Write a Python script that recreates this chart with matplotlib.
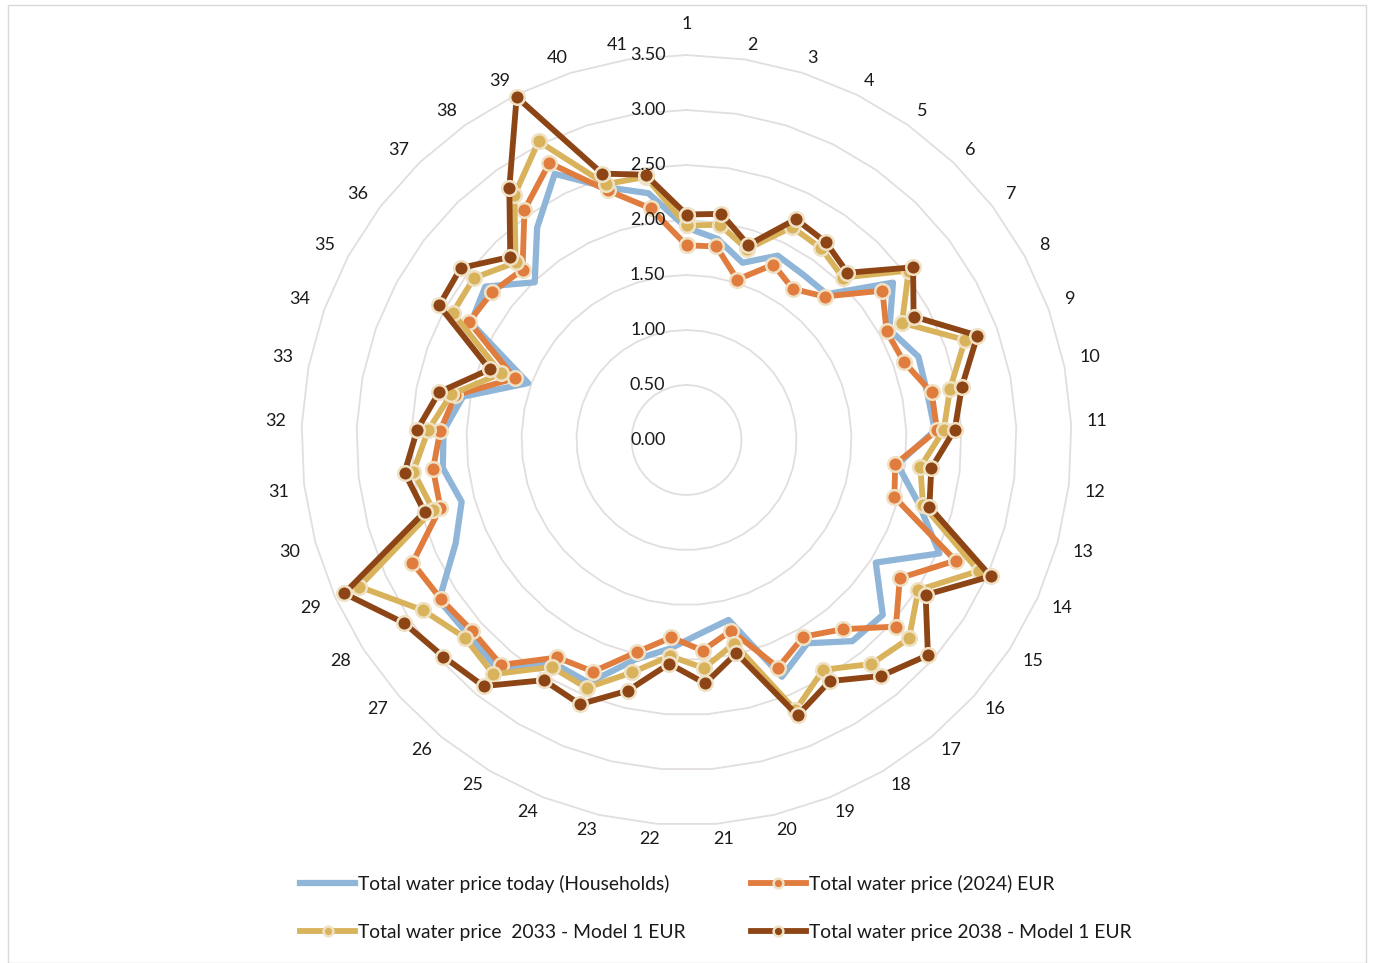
import numpy as np
import matplotlib
matplotlib.use("Agg")
import matplotlib.pyplot as plt
from matplotlib.lines import Line2D
from matplotlib.patches import Rectangle
import matplotlib.transforms as mtransforms

plt.rcParams['font.family'] = ['Lato', 'DejaVu Sans']

categories = [str(i) for i in range(1, 42)]

today = [1.93, 1.85, 1.69, 1.87, 1.84, 1.84, 2.36, 2.10, 2.24, 2.23,
         2.26, 1.93, 2.19, 2.52, 2.05, 2.39, 2.37, 2.15, 2.32, 1.68,
         1.76, 1.90, 2.05, 2.38, 2.36, 2.70, 2.66, 2.68, 2.30, 2.12,
         2.23, 2.21, 2.07, 1.53, 2.23, 2.30, 1.99, 2.36, 2.70, 2.41, 2.27]
p2024 = [1.77, 1.78, 1.53, 1.78, 1.68, 1.81, 2.24, 2.07, 2.10, 2.27,
         2.28, 1.91, 1.96, 2.68, 2.31, 2.55, 2.23, 2.08, 2.23, 1.78,
         1.92, 1.80, 1.98, 2.27, 2.30, 2.65, 2.61, 2.66, 2.73, 2.32,
         2.32, 2.24, 2.14, 1.66, 2.25, 2.22, 2.15, 2.56, 2.81, 2.38, 2.13]
p2033 = [1.95, 1.98, 1.82, 2.16, 2.13, 2.05, 2.54, 2.23, 2.69, 2.44,
         2.34, 2.14, 2.23, 2.91, 2.51, 2.71, 2.64, 2.43, 2.65, 1.90,
         2.08, 1.97, 2.17, 2.43, 2.40, 2.76, 2.70, 2.85, 3.26, 2.39,
         2.50, 2.35, 2.18, 1.79, 2.42, 2.43, 2.24, 2.72, 3.03, 2.44, 2.42]
p2038 = [2.05, 2.08, 1.86, 2.24, 2.20, 2.11, 2.59, 2.35, 2.81, 2.55,
         2.44, 2.24, 2.29, 3.03, 2.59, 2.94, 2.78, 2.55, 2.70, 1.99,
         2.22, 2.04, 2.34, 2.59, 2.54, 2.90, 2.96, 3.06, 3.41, 2.47,
         2.58, 2.45, 2.29, 1.90, 2.56, 2.58, 2.31, 2.80, 3.48, 2.54, 2.44]

series_names = ["Total water price today (Households)",
                "Total water price (2024) EUR",
                "Total water price  2033 - Model 1 EUR",
                "Total water price 2038 - Model 1 EUR"]
series_values = [today, p2024, p2033, p2038]
series_colors = ["#8fb5d8", "#e07c3e", "#d9b35c", "#8e4516"]
series_markers = [False, True, True, True]
r_ticks = [0.0, 0.5, 1.0, 1.5, 2.0, 2.5, 3.0, 3.5]
r_labels = ["0.00", "0.50", "1.00", "1.50", "2.00", "2.50", "3.00", "3.50"]

W, H = 1373, 963
fig = plt.figure(figsize=(W / 100, H / 100), dpi=100)
fig.patches.append(Rectangle((8 / W, 0.0), (1366 - 8) / W, (H - 5) / H,
                             transform=fig.transFigure, fill=False,
                             edgecolor="#d9d9d9", linewidth=1.0))

cx, cy, R = 686.5, 440.0, 385.0
ax = fig.add_axes([(cx - R) / W, (H - cy - R) / H, 2 * R / W, 2 * R / H],
                  projection="polar")
ax.set_theta_zero_location("N")
ax.set_theta_direction(-1)
ax.set_ylim(0, 3.5)
ax.set_yticks([])
ax.set_xticks([])
ax.grid(False)
ax.spines["polar"].set_visible(False)
ax.set_facecolor("none")

n = len(categories)
angles = np.arange(n) * 2 * np.pi / n
ang_closed = np.append(angles, angles[0])

# polygonal gridlines (Excel radar style)
for r in r_ticks[1:]:
    ax.plot(ang_closed, np.full(n + 1, r), color="#e3dede", linewidth=1.3,
            clip_on=False, zorder=1)

for vals, col, mk in zip(series_values, series_colors, series_markers):
    v = np.append(vals, vals[0])
    if mk:
        ax.plot(ang_closed, v, color=col, linewidth=4.2, marker="o",
                markersize=10.5, markerfacecolor=col, markeredgecolor="#efe1c4",
                markeredgewidth=1.8, clip_on=False, zorder=3)
    else:
        ax.plot(ang_closed, v, color=col, linewidth=4.5, clip_on=False, zorder=3)

# radial labels
lab_tr = mtransforms.offset_copy(ax.transData, fig=fig, x=-21, y=0, units="dots")
for r, t in zip(r_ticks, r_labels):
    ax.text(0, r, t, transform=lab_tr, ha="right", va="center",
            fontsize=13, color="#1a1a1a", zorder=5)

# category labels: box placed just outside the outer ring
r0x, r0y, hh = 403.0, 392.0, 8.0
for a, c in zip(angles, categories):
    s, co = np.sin(a), np.cos(a)
    hw = 4.0 * len(c)
    dx = r0x * s + hw * np.tanh(s / 0.07)
    dy = r0y * co + hh * np.tanh(co / 0.07)
    if abs(s) < 1e-9:
        dy += 16.0
    fig.text((cx + dx) / W, (H - (cy - dy)) / H, c, ha="center", va="center",
             fontsize=13, color="#1a1a1a")

handles = []
for name, col, mk in zip(series_names, series_colors, series_markers):
    if mk:
        handles.append(Line2D([], [], color=col, linewidth=4.2, marker="o",
                              markersize=7, markerfacecolor=col,
                              markeredgecolor="#efe1c4", markeredgewidth=1.8))
    else:
        handles.append(Line2D([], [], color=col, linewidth=4.5))

# row-wise order: matplotlib fills columns first
order = [0, 2, 1, 3]
leg = fig.legend([handles[i] for i in order], [series_names[i] for i in order],
                 loc="center left", ncol=2, borderpad=0, borderaxespad=0,
                 bbox_to_anchor=(300 / W, (H - 908) / H), frameon=False,
                 fontsize=13.9, handlelength=2.85, handletextpad=0.15,
                 columnspacing=3.37, labelspacing=1.62)
for t in leg.get_texts():
    t.set_color("#1a1a1a")

fig.savefig("out.png", dpi=100, facecolor="white")
